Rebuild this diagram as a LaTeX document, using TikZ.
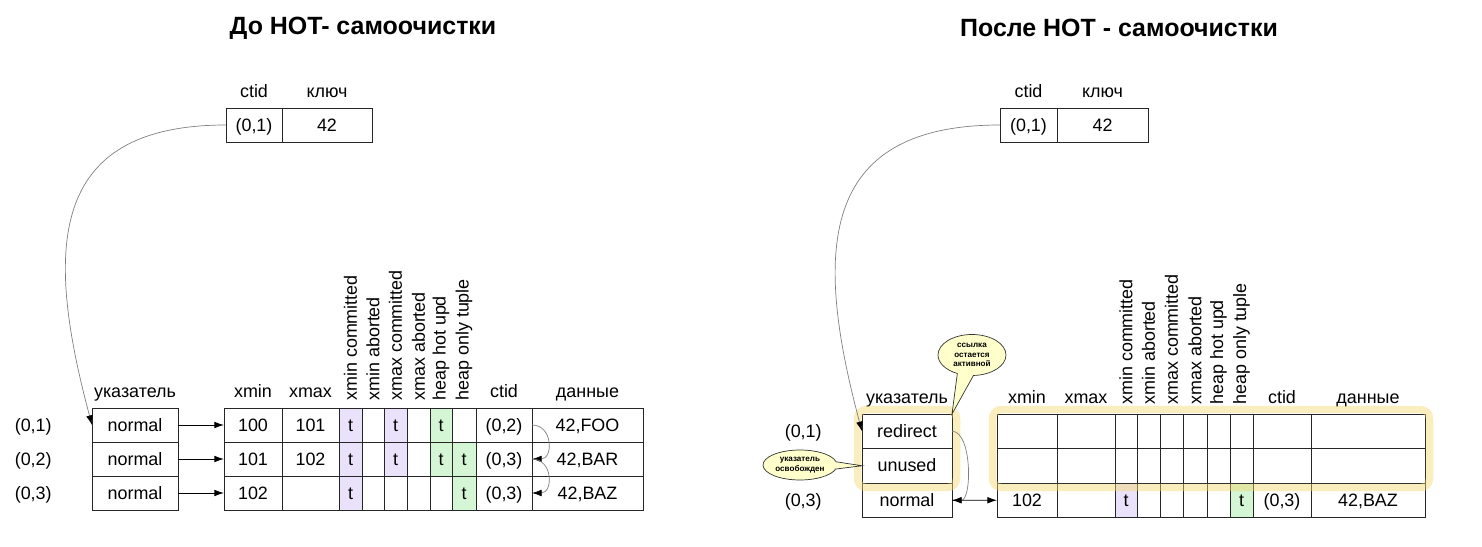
\documentclass[tikz,border=0pt]{standalone}
\usepackage{fontspec}
\setmainfont{Liberation Sans}
\usetikzlibrary{positioning,arrows.meta,shapes.callouts,fit}

\definecolor{lav}{RGB}{234,226,250}
\definecolor{hot}{RGB}{212,246,212}
\definecolor{notefill}{RGB}{255,255,204}
\definecolor{glow}{RGB}{243,214,110}

\tikzset{
	cell/.style 2 args={draw=black!85, fill=white, minimum width=#1*0.02cm, minimum height=#2*0.02cm, inner sep=0pt, outer sep=0pt, anchor=north west, text height=9pt, text depth=2pt},
	hdr/.style={inner sep=0pt, anchor=base},
	vhdr/.style={inner sep=0pt, rotate=90, anchor=west},
	lbl/.style={inner sep=0pt, text height=9pt, text depth=2pt},
	ttl/.style={font=\fontsize{14.2}{17}\selectfont\bfseries},
	ptr/.style={-{Latex[length=5.5pt,width=3.8pt]}, line width=0.5pt},
	link/.style={gray, line width=0.4pt, -{Latex[length=5.5pt,width=3.8pt,color=black]}},
	note/.style={ellipse callout, draw=black!80, fill=notefill, inner sep=0pt, align=center, callout pointer arc=28, font=\fontsize{4.6}{5.4}\selectfont\bfseries},
	glowbox/.style={draw=glow, draw opacity=0.45, line width=0.15cm, rounded corners=0.18cm, inner sep=0.09cm}
}

% column borders of the tuple tables (px)
\def\lcols{{224,282,339,362,384,407,430,452,476,532,643}}
\def\rcols{{997,1057,1115,1137,1160,1183,1207,1230,1253,1311,1425}}

% one tuple: name, columns, top, height, cells text/fill
\newcommand{\tuplerow}[5]{%
	\foreach \ctext/\cfill [count=\i] in {#5}{%
		\pgfmathsetmacro\cxa{#2[\i-1]}%
		\pgfmathsetmacro\cxb{#2[\i]}%
		\pgfmathsetmacro\cwd{\cxb-\cxa}%
		\node[cell={\cwd}{#4}, fill=\cfill] (#1-\i) at (\cxa,#3) {\ctext};
	}%
}

\begin{document}
\begin{tikzpicture}[x=0.02cm, y=-0.02cm, font=\fontsize{10.2}{12}\selectfont]
	\useasboundingbox (0,0) rectangle (1482,547);
	
	\node[ttl] (ttlL) at (363,28) {До HOT- самоочистки};
	\node[ttl] (ttlR) at (1119,28) {После HOT - самоочистки};
	
	%% before
	\node[cell={56}{34}] (LT1) at (226,108) {(0,1)};
	\node[cell={90}{34}, right=0pt of LT1] (LT2) {42};
	\node[hdr] (LTh1) at ([yshift=0.2cm]LT1.north) {ctid};
	\node[hdr] (LTh2) at ([yshift=0.2cm]LT2.north) {ключ};
	
	\node[cell={86}{34}] (LP1) at (92,408) {normal};
	\node[cell={86}{34}, below=0pt of LP1] (LP2) {normal};
	\node[cell={86}{34}, below=0pt of LP2] (LP3) {normal};
	\node[hdr] (LPh) at ([yshift=0.22cm]LP1.north) {указатель};
	\node[lbl, left=0.8cm of LP1] (LL1) {(0,1)};
	\node[lbl, left=0.8cm of LP2] (LL2) {(0,2)};
	\node[lbl, left=0.8cm of LP3] (LL3) {(0,3)};
	
	\tuplerow{L1}{\lcols}{408}{34}{100/white,101/white,t/lav,/white,t/lav,/white,t/hot,/white,{(0,2)}/white,{42,FOO}/white}
	\tuplerow{L2}{\lcols}{442}{34}{101/white,102/white,t/lav,/white,t/lav,/white,t/hot,t/hot,{(0,3)}/white,{42,BAR}/white}
	\tuplerow{L3}{\lcols}{476}{34}{102/white,/white,t/lav,/white,/white,/white,/white,t/hot,{(0,3)}/white,{42,BAZ}/white}
	
	\node[hdr] (Lh1) at ([yshift=0.22cm]L1-1.north) {xmin};
	\node[hdr] (Lh2) at ([yshift=0.22cm]L1-2.north) {xmax};
	\node[hdr] (Lh9) at ([yshift=0.22cm]L1-9.north) {ctid};
	\node[hdr] (Lh10) at ([yshift=0.22cm]L1-10.north) {данные};
	\foreach \flag [count=\k from 3] in {xmin committed,xmin aborted,xmax committed,xmax aborted,heap hot upd,heap only tuple}
		\node[vhdr] (Lv\k) at ([yshift=0.14cm]L1-\k.north) {\flag};
	
	\draw[ptr] (LP1) -- (L1-1);
	\draw[ptr] (LP2) -- (L2-1);
	\draw[ptr] (LP3) -- (L3-1);
	\draw[link] (L1-9.east) to[out=0, in=0, looseness=1.6] (L2-9.east);
	\draw[link] (L2-9.east) to[out=0, in=0, looseness=1.6] (L3-9.east);
	\draw[link] (LT1.west) to[out=180, in=105, looseness=1.4] (LP1.west);
	
	%% after
	\node[cell={57}{34}] (RT1) at (1000,108) {(0,1)};
	\node[cell={91}{34}, right=0pt of RT1] (RT2) {42};
	\node[hdr] (RTh1) at ([yshift=0.2cm]RT1.north) {ctid};
	\node[hdr] (RTh2) at ([yshift=0.2cm]RT2.north) {ключ};
	
	\node[cell={90}{34.5}] (RP1) at (862,414) {redirect};
	\node[cell={90}{34.5}, below=0pt of RP1] (RP2) {unused};
	\node[cell={90}{34.5}, below=0pt of RP2] (RP3) {normal};
	\node[hdr] (RPh) at ([yshift=0.22cm]RP1.north) {указатель};
	\node[lbl, left=0.8cm of RP1] (RL1) {(0,1)};
	\node[lbl, left=0.8cm of RP3] (RL3) {(0,3)};
	
	\tuplerow{R1}{\rcols}{414}{34.5}{/white,/white,/white,/white,/white,/white,/white,/white,/white,/white}
	\tuplerow{R2}{\rcols}{448.5}{34.5}{/white,/white,/white,/white,/white,/white,/white,/white,/white,/white}
	\tuplerow{R3}{\rcols}{483}{34.5}{102/white,/white,t/lav,/white,/white,/white,/white,t/hot,{(0,3)}/white,{42,BAZ}/white}
	
	\node[hdr] (Rh1) at ([yshift=0.22cm]R1-1.north) {xmin};
	\node[hdr] (Rh2) at ([yshift=0.22cm]R1-2.north) {xmax};
	\node[hdr] (Rh9) at ([yshift=0.22cm]R1-9.north) {ctid};
	\node[hdr] (Rh10) at ([yshift=0.22cm]R1-10.north) {данные};
	\foreach \flag [count=\k from 3] in {xmin committed,xmin aborted,xmax committed,xmax aborted,heap hot upd,heap only tuple}
		\node[vhdr] (Rv\k) at ([yshift=0.18cm]R1-\k.north) {\flag};
	
	\node[glowbox, fit=(RP1)(RP2)] (G1) {};
	\node[glowbox, fit=(R1-1)(R2-10)] (G2) {};
	
	\draw[ptr] (RP3) -- (R3-1);
	\draw[link] (RP1.east) to[out=0, in=0, looseness=0.75] (RP3.east);
	\draw[link] (RT1.west) to[out=180, in=105, looseness=1.4] (RP1.west);
	
	\node[note, minimum width=1.36cm, minimum height=0.82cm, callout absolute pointer={(RP1.north east)}] (N1) at (972,355) {ссылка\\остается\\активной};
	\node[note, minimum width=1.48cm, minimum height=0.6cm, callout absolute pointer={(RP2.west)}] (N2) at (800,465) {указатель\\освобожден};
	
\end{tikzpicture}
\end{document}
